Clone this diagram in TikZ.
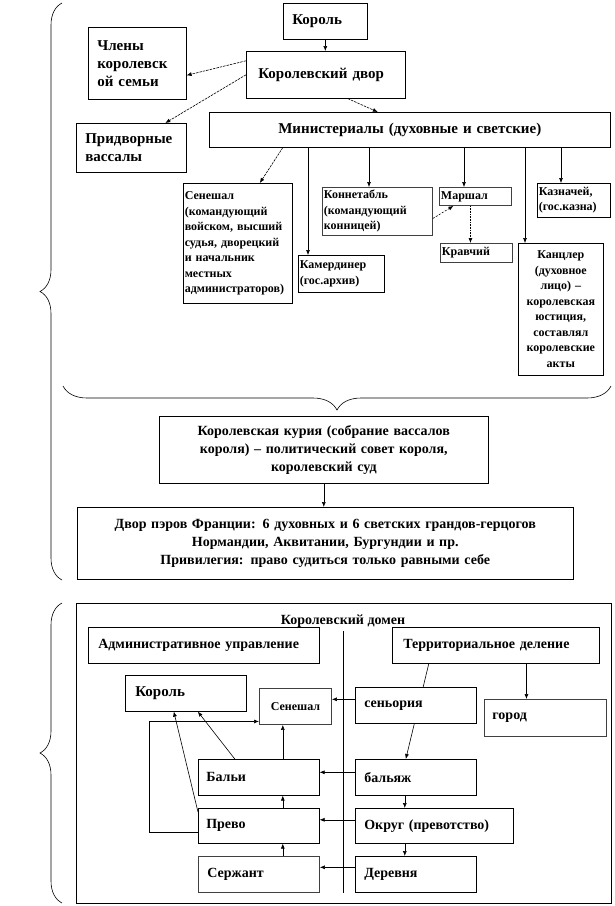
\documentclass[tikz,border=0pt]{standalone}
\usepackage{fontspec}
\setmainfont{Liberation Serif}
\usetikzlibrary{arrows.meta}
\usetikzlibrary{decorations.pathreplacing}

\begin{document}
\begin{tikzpicture}[x=1pt,y=-1pt,line width=0.6pt,
    >={Latex[length=5pt,width=4pt]},
    box/.style={draw,fill=white,anchor=north west,inner ysep=0pt,align=left},
    mbox/.style={draw,fill=white,anchor=north west,inner sep=0pt,align=center},
    wh/.style 2 args={text width=#1,minimum height=#2},
    big/.style={font=\fontsize{15}{18}\selectfont\bfseries},
    mid/.style={font=\fontsize{14}{18}\selectfont\bfseries},
    small/.style={font=\fontsize{12}{15.5}\selectfont\bfseries},
    grey/.style={draw=black!75,line width=0.9pt},
    dasharr/.style={->,dash pattern=on 2.5pt off 1pt}]
  \fill[white] (0,0) rectangle (615,906);
  \useasboundingbox (0,0) rectangle (615,906);
  % upper part: the court
  \node[box,big,inner xsep=9pt,wh={66pt}{36pt}] (king) at (283,3) {Король};
  \node[box,big,inner xsep=12pt,wh={135pt}{47pt}] (court) at (246,51) {Королевский двор};
  \node[box,big,inner xsep=9pt,wh={80pt}{72pt}] (family) at (88,27)
    {Члены\\королевск\\ой семьи};
  \node[box,big,inner xsep=9pt,wh={92pt}{49pt}] (vassals) at (76,123)
    {Придворные\\вассалы};
  \node[mbox,big,wh={401pt}{35pt}] (minist) at (209,112)
    {Министериалы (духовные и светские)};
  \node[box,small,inner xsep=1.5pt,wh={106pt}{120pt}] (seneschal) at (183,183)
    {Сенешал\\(командующий\\войском, высший\\судья, дворецкий\\и начальник\\местных\\администраторов)};
  \node[box,small,grey,inner xsep=1.5pt,wh={107pt}{48pt}] (constable) at (322,187)
    {Коннетабль\\(командующий\\конницей)};
  \node[box,small,grey,inner xsep=1.5pt,wh={69pt}{18pt}] (marshal) at (439,187) {Маршал};
  \node[box,small,inner xsep=1.5pt,wh={70pt}{34pt}] (treasurer) at (537,183)
    {Казначей,\\(гос.казна)};
  \node[box,small,inner xsep=1.5pt,wh={83pt}{37pt}] (chamberlain) at (298,255)
    {Камердинер\\(гос.архив)};
  \node[box,small,grey,inner xsep=1.5pt,wh={69pt}{19pt}] (cupbearer) at (440,243) {Кравчий};
  \node[mbox,small,wh={85pt}{132pt}] (chancellor) at (518,243)
    {Канцлер\\(духовное\\лицо) –\\королевская\\юстиция,\\составлял\\королевские\\акты};

  \draw[->] (king.south) -- (king.south |- court.north);
  \draw[dasharr] ([yshift=14pt]court.west) -- ([yshift=-12pt]family.east);
  \draw[dasharr] (court.west) -- ([xshift=34pt]vassals.north);
  \draw[dasharr] ([xshift=22pt]court.south) -- ([xshift=-32pt]minist.north);
  \draw[dasharr] ([xshift=-127pt]minist.south) -- ([xshift=22pt]seneschal.north);
  \foreach \n/\dx in {chamberlain/10,constable/47,marshal/25,chancellor/7,treasurer/24} {
    \coordinate (tip) at ([xshift=\dx pt]\n.north west);
    \draw[->] (tip |- minist.south) -- (tip);
  }
  \draw[->,dash pattern=on 2pt off 1.5pt] ([yshift=-7pt]constable.east)
    -- ([xshift=-22pt]marshal.south);
  \coordinate (tip) at ([xshift=-5pt]marshal.south);
  \draw[->,densely dotted] (tip) -- (tip |- cupbearer.north);

  \draw[decorate,decoration={brace,mirror,amplitude=24pt}] (63,386) -- (611,386);
  \draw[decorate,decoration={brace,amplitude=22pt}] (62,580) -- (62,3);

  \node[mbox,mid,wh={329pt}{67pt}] (curia) at (159,416)
    {Королевская курия (собрание вассалов\\короля) – политический совет короля,\\королевский суд};
  \node[mbox,mid,wh={496pt}{72pt}] (peers) at (77,507)
    {Двор пэров Франции: 6 духовных и 6 светских грандов-герцогов\\Нормандии, Аквитании, Бургундии и пр.\\Привилегия: право судиться только равными себе};
  \draw[->] (curia.south) -- (curia.south |- peers.north);

  % lower part: the royal domain
  \node[draw,anchor=north west,inner sep=0pt,minimum width=535pt,minimum height=300pt]
    (domain) at (76,603) {};
  \node[mid] (title) at (343,621) {Королевский домен};
  \node[box,mid,inner xsep=10pt,wh={211pt}{36pt}] (admin) at (88,627)
    {Административное управление};
  \node[box,mid,inner xsep=11pt,wh={185pt}{36pt}] (terr) at (392,627)
    {Территориальное деление};
  \node[box,big,inner xsep=10pt,wh={101pt}{36pt}] (dking) at (125,675) {Король};
  \node[mbox,grey,font=\fontsize{12}{14}\selectfont\bfseries,wh={72pt}{36pt}] (dsen) at (259,688)
    {Сенешал};
  \node[box,mid,grey,inner xsep=8pt,wh={106pt}{37pt}] (town) at (484,699) {город};
  \node[box,mid,inner xsep=8pt,wh={105pt}{36pt}] (bailli) at (198,759) {Бальи};
  \node[box,mid,inner xsep=9pt,wh={103pt}{36pt}] (bailliage) at (355,759) {бальяж};
  \node[box,mid,inner xsep=8pt,wh={105pt}{35pt}] (prevot) at (198,808) {Прево};
  \node[box,mid,inner xsep=9pt,wh={140pt}{35pt}] (district) at (355,808) {Округ (превотство)};
  \node[box,mid,grey,inner xsep=9pt,wh={103pt}{36pt}] (serjeant) at (198,856) {Сержант};
  \node[box,mid,inner xsep=9pt,wh={103pt}{36pt}] (village) at (355,856) {Деревня};
  \draw (title.south) -- (title.south |- village.south);
  \draw[->] ([xshift=-67pt]terr.south) -- ([xshift=-10pt]bailliage.north);
  \node[box,mid,inner xsep=9pt,wh={103pt}{36pt}] (seign) at (355,687) {сеньория};

  \coordinate (tip) at ([xshift=-19pt]town.north);
  \draw[->] (tip |- terr.south) -- (tip);
  \foreach \a/\b/\dy in {seign/dsen/6,bailliage/bailli/5,district/prevot/6,village/serjeant/7} {
    \coordinate (tail) at ([yshift=\dy pt]\a.west);
    \draw[->] (tail) -- (tail -| \b.east);
  }
  \coordinate (col) at ([xshift=-11pt]bailliage.south);
  \foreach \a/\b in {bailliage/district,district/village}
    \draw[->] (col |- \a.south) -- (col |- \b.north);
  \coordinate (col) at ([xshift=24pt]bailli.north);
  \foreach \a/\b in {serjeant/prevot,prevot/bailli,bailli/dsen}
    \draw[->] (col |- \a.north) -- (col |- \b.south);
  \draw[->] ([xshift=-24pt]bailli.north) -- ([xshift=12pt]dking.south);
  \draw[->] ([yshift=-4pt]prevot.north west) -- ([xshift=-12pt]dking.south);
  \draw[->] ([yshift=-6pt]prevot.west) -- ++(-49,0) |- ([yshift=-15pt]dsen.west);

  \draw[decorate,decoration={brace,amplitude=22pt}] (62,903) -- (62,603);
\end{tikzpicture}
\end{document}
